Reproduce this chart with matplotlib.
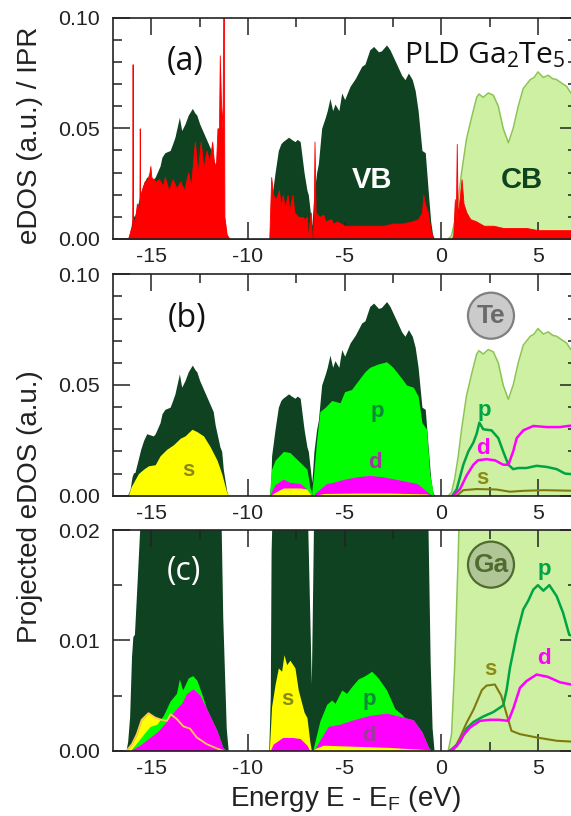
import matplotlib
matplotlib.use('Agg')
import matplotlib.pyplot as plt
from matplotlib.patches import Ellipse
from matplotlib.ticker import MultipleLocator

plt.rcParams['font.family'] = ['Liberation Sans', 'DejaVu Sans']
plt.rcParams['axes.unicode_minus'] = False
plt.rcParams['mathtext.default'] = 'regular'

# total eDOS, valence side
e_vb = [-16.28,-16.2,-16.1,-16.0,-15.93,-15.85,-15.72,-15.55,-15.4,-15.24,-15.07,-14.9,-14.8,-14.55,-14.45,-14.3,-14.03,-13.9,-13.78,-13.55,-13.43,-13.26,-13.09,-12.88,-12.75,-12.65,-12.5,-12.4,-12.2,-12.05,-11.8,-11.7,-11.6,-11.45,-11.36,-11.28,-11.1,-11.0,
        -8.9,-8.82,-8.78,-8.6,-8.43,-8.3,-8.2,-8.05,-7.9,-7.75,-7.57,-7.45,-7.3,-7.1,-6.95,-6.88,-6.75,-6.7,-6.65,-6.59,-6.45,-6.36,-6.19,-6.0,-5.9,-5.76,-5.62,-5.5,-5.3,-5.15,-5.0,-4.72,-4.45,-4.12,-3.95,-3.7,-3.5,-3.25,-3.1,-2.83,-2.65,-2.31,-2.05,-1.88,-1.7,-1.5,-1.35,-1.2,-1.0,-0.83,-0.67,-0.55,-0.45,-0.35]
dos_vb = [0,.0008,.003,.0085,.0103,.0105,.015,.021,.025,.028,.0275,.027,.028,.033,.037,.039,.040,.043,.046,.055,.049,.052,.056,.059,.057,.056,.052,.05,.046,.043,.038,.032,.028,.022,.02,.012,.002,0,
          0,.005,.018,.03,.04,.043,.044,.045,.046,.045,.044,.045,.044,.03,.022,.02,.01,.006,.012,.02,.03,.034,.05,.055,.058,.0635,.058,.061,.058,.066,.063,.069,.0725,.078,.079,.0855,.087,.0846,.085,.0877,.0854,.079,.074,.072,.075,.072,.067,.058,.04,.039,.021,.008,.002,0]

# total eDOS, conduction side
e_cb = [.36,.53,.7,.88,1.05,1.3,1.57,1.83,1.95,2.17,2.43,2.69,2.95,3.2,3.47,3.72,3.98,4.24,4.6,4.8,5.0,5.28,5.53,5.75,5.97,6.3,6.48,6.7,7.0]
dos_cb = [0,.0015,.008,.018,.03,.045,.055,.064,.0655,.064,.066,.065,.06,.05,.0435,.05,.06,.068,.072,.073,.0755,.073,.074,.0725,.072,.07,.069,.066,.066]

# IPR
e_ipr = [-16.2,-16.05,-15.99,-15.97,-15.95,-15.8,-15.75,-15.62,-15.6,-15.58,-15.5,-15.35,-15.2,-15.1,-15.05,-15.0,-14.8,-14.6,-14.4,-14.3,-14.1,-13.9,-13.7,-13.5,-13.3,-13.1,-12.95,-12.75,-12.6,-12.45,-12.3,-12.15,-12.0,-11.85,-11.75,-11.65,-11.58,-11.5,-11.46,-11.4,-11.32,-11.28,-11.25,-11.22,-11.1,-10.95,
         -8.9,-8.8,-8.7,-8.55,-8.4,-8.3,-8.2,-8.1,-7.95,-7.85,-7.7,-7.6,-7.4,-7.2,-7.05,-6.95,-6.9,-6.8,-6.75,-6.7,-6.65,-6.6,-6.56,-6.5,-6.3,-6.1,-6.0,-5.7,-5.6,-5.4,-5.0,-4.5,-4.0,-3.5,-3.0,-2.5,-2.0,-1.5,-1.2,-1.0,-0.93,-0.85,-0.7,-0.55,-0.42,
         .55,.62,.7,.75,.8,.85,1.05,1.15,1.3,1.5,1.8,2.2,2.7,3.2,3.8,4.4,5.0,5.6,6.2,7.0]
val_ipr = [0,.005,.005,.079,.006,.012,.016,.014,.05,.018,.022,.026,.027,.03,.033,.028,.026,.027,.024,.028,.022,.027,.023,.026,.022,.03,.024,.044,.03,.044,.032,.04,.035,.044,.033,.035,.05,.05,.083,.062,.05,.10,.10,.01,.002,0,
           0,.028,.02,.018,.022,.015,.02,.014,.02,.013,.02,.012,.01,.01,.009,.01,0,.009,.012,.001,0,.01,.044,.012,.01,.011,.008,.009,.007,.008,.006,.006,.006,.006,.006,.007,.007,.008,.009,.012,.02,.016,.012,.004,0,
           0,.002,.018,.008,.043,.01,.027,.016,.012,.009,.008,.006,.006,.005,.005,.005,.004,.004,.004,.004]

# Te projections
te_s_e = [-16.2,-16.05,-15.67,-15.4,-15.15,-14.8,-14.55,-14.2,-13.86,-13.5,-13.26,-12.9,-12.65,-12.3,-11.95,-11.6,-11.36,-11.1,-10.95]
te_s = [0,.004,.01,.012,.0135,.014,.018,.021,.023,.026,.027,.03,.029,.027,.022,.016,.01,.0015,0]
te_mid_e = [-8.9,-8.78,-8.6,-8.17,-7.83,-7.3,-6.95,-6.8,-6.7]
te_mid_p = [0,.012,.016,.02,.0195,.015,.012,.004,.001]
te_mid_d = [0,.002,.005,.0075,.006,.0055,.003,.001,0]
te_mid_s = [0,.0005,.0015,.0035,.0035,.0035,.003,.001,0]
te_vb_e = [-6.7,-6.6,-6.45,-6.28,-6.0,-5.67,-5.24,-5.0,-4.64,-4.3,-3.95,-3.7,-3.27,-2.83,-2.5,-2.05,-1.8,-1.45,-1.2,-1.0,-0.76,-0.6,-0.41]
te_vb_p = [.002,.01,.025,.038,.04,.043,.042,.047,.048,.052,.056,.058,.0595,.0605,.058,.053,.05,.049,.045,.033,.03,.01,.001]
te_vb_d_e = [-6.55,-6.28,-5.93,-5.6,-5.0,-4.4,-3.7,-3.0,-2.1,-1.25,-0.76,-0.5]
te_vb_d = [.001,.003,.0055,.006,.0075,.0085,.0092,.0085,.007,.0055,.002,0]
te_vb_s_e = [-6.55,-6.1,-4.4,-2.7,-0.76,-0.5]
te_vb_s = [.0001,.001,.0012,.0012,.0008,0]
te_cb_p_e = [.57,.8,1.14,1.4,1.66,1.83,1.97,2.17,2.6,2.95,3.2,3.47,3.72,3.98,4.4,4.93,5.45,5.97,6.4,7.0]
te_cb_p = [0,.003,.014,.02,.024,.028,.033,.030,.0295,.026,.02,.014,.012,.0125,.0125,.0135,.013,.012,.01,.0095]
te_cb_d_e = [.62,.97,1.3,1.66,1.9,2.34,2.77,3.2,3.47,3.72,3.9,4.24,4.76,5.45,6.14,7.0]
te_cb_d = [0,.003,.009,.014,.016,.0165,.016,.014,.014,.02,.026,.0295,.0315,.031,.031,.032]
te_cb_s_e = [.8,1.14,1.83,2.86,3.55,4.24,5.28,7.0]
te_cb_s = [0,.0025,.003,.0028,.0018,.0022,.0025,.0022]

# Ga projections
ga_s_e = [-16.28,-16.0,-15.75,-15.5,-15.15,-14.8,-14.47,-14.2,-14.0,-13.7,-13.34,-13.0,-12.65,-12.14,-11.6,-11.3]
ga_s = [0,.0006,.0015,.0028,.0034,.003,.0028,.0027,.0033,.0029,.0022,.002,.0012,.0006,.0002,0]
ga_p_e = [-16.1,-15.85,-15.4,-15.07,-14.72,-14.38,-14.03,-13.7,-13.55,-13.38,-13.09,-12.86,-12.65,-12.4,-12.14,-11.6,-11.3,-11.1]
ga_p = [0,.0005,.0015,.0022,.0024,.0032,.0045,.0052,.0065,.0055,.0066,.0068,.0064,.0052,.0038,.0018,.0003,0]
ga_d_e = [-16.1,-15.6,-15.07,-14.64,-14.2,-13.95,-13.7,-13.43,-13.17,-12.83,-12.48,-12.14,-11.6,-11.3,-11.1]
ga_d = [0,.0005,.0012,.0018,.0027,.0033,.0038,.0043,.0052,.0056,.005,.0038,.0018,.0003,0]
ga_mid_s_e = [-8.9,-8.78,-8.6,-8.43,-8.26,-8.14,-8.0,-7.83,-7.57,-7.4,-7.1,-6.95,-6.8,-6.72]
ga_mid_s = [0,.004,.006,.0075,.0072,.0087,.0078,.0082,.0075,.0055,.0035,.003,.0008,0]
ga_mid_d_e = [-8.85,-8.7,-8.2,-7.7,-7.3,-6.95,-6.8]
ga_mid_d = [0,.0006,.0012,.0012,.0011,.0005,0]
ga_vb_p_e = [-6.65,-6.53,-6.28,-5.93,-5.67,-5.5,-5.15,-4.9,-4.64,-4.3,-3.95,-3.6,-3.27,-2.83,-2.4,-2.05,-1.9,-1.45,-1.0,-0.66,-0.5]
ga_vb_p = [0,.0009,.0027,.0042,.0046,.0043,.0055,.0052,.0058,.0065,.0068,.0072,.0066,.0055,.0038,.0033,.003,.0028,.0017,.0003,0]
ga_vb_d_e = [-6.65,-6.5,-6.2,-5.85,-5.24,-4.55,-3.7,-2.83,-2.1,-1.45,-1.0,-0.66,-0.5]
ga_vb_d = [0,.0003,.0012,.0022,.0024,.0028,.0032,.0034,.0031,.0028,.0017,.0003,0]
ga_vb_s_e = [-6.65,-6.53,-6.1,-4.4,-2.7,-0.76,-0.5]
ga_vb_s = [0,.0002,.0005,.0004,.0003,.0001,0]
ga_cb_p_e = [.45,.97,1.3,1.66,2.17,2.69,3.2,3.38,3.55,3.9,4.24,4.5,4.76,5.0,5.28,5.59,5.97,6.3,6.62,7.0]
ga_cb_p = [0,.0008,.002,.0026,.0031,.0035,.0041,.0055,.0075,.0105,.0128,.0136,.0146,.015,.0145,.015,.014,.0125,.0105,.0103]
ga_cb_d_e = [.45,.8,1.14,1.48,2.0,2.5,3.0,3.47,3.72,4.07,4.4,4.93,5.5,6.14,7.0]
ga_cb_d = [0,.0004,.0014,.0021,.0027,.0028,.0028,.0027,.0038,.0057,.0063,.0069,.0067,.0062,.0059]
ga_cb_s_e = [.62,.97,1.3,1.66,2.1,2.34,2.77,3.1,3.38,3.63,4.07,4.93,5.97,7.0]
ga_cb_s = [0,.0012,.0025,.0037,.0055,.0059,.006,.005,.0033,.0018,.0015,.0012,.0009,.0008]

xticks = [-15,-10,-5,0,5]

DARK = '#0e4220'
LIGHT = '#cdf0a2'
EDGE = '#8cc454'
GREEN = '#00ff00'
MAG = '#ff00ff'
YEL = '#ffff00'
LINE_P = '#00a444'
OLIVE = '#7f7a10'
LAB_P = '#0a8a3a'
LAB_D = '#a038a0'
LAB_S = '#8c8a14'

W, H = 571, 816
fig = plt.figure(figsize=(W/100, H/100), dpi=100)

def make_ax(top, bottom, ymax, major, minor):
    ax = fig.add_axes([112.7/W, 1-bottom/H, (576.6-112.7)/W, (bottom-top)/H])
    ax.set_xlim(-17, 7)
    ax.set_ylim(0, ymax)
    ax.xaxis.set_major_locator(MultipleLocator(5))
    ax.xaxis.set_minor_locator(MultipleLocator(2.5))
    ax.yaxis.set_major_locator(MultipleLocator(major))
    ax.yaxis.set_minor_locator(MultipleLocator(minor))
    ax.set_xticks(xticks)
    ax.tick_params(which='major', direction='in', length=12.2, width=1.1, top=True, right=True, color='#222222')
    ax.tick_params(which='minor', direction='in', length=6.5, width=1.1, top=True, right=True, color='#222222')
    ax.tick_params(axis='x', which='major', labelsize=15.4, pad=6, labelcolor='#222222')
    ax.tick_params(axis='y', which='major', labelsize=15.4, pad=9, labelcolor='#222222')
    ax.yaxis.set_major_formatter('{x:.2f}')
    for s in ax.spines.values():
        s.set_linewidth(1.2)
        s.set_color('#222222')
        s.set_zorder(20)
    return ax

def fill(ax, x, y, color, z):
    ax.fill_between(x, 0, y, color=color, linewidth=0, zorder=z)

def base(ax):
    fill(ax, e_vb, dos_vb, DARK, 1)
    fill(ax, e_cb, dos_cb, LIGHT, 1)
    ax.plot(e_cb, dos_cb, color=EDGE, lw=1.1, zorder=1.5)

ax_a = make_ax(17.7, 239, .10, .05, .01)
ax_b = make_ax(274.3, 495.7, .10, .05, .01)
ax_c = make_ax(530, 750.7, .02, .01, .005)

# panel a
base(ax_a)
ax_a.fill_between(e_ipr, 0, val_ipr, color='#ff0000', linewidth=0.6, zorder=3)
ax_a.text(-13.26, .080, '(a)', fontfamily='Open Sans', fontsize=23, ha='center', va='center', color='#111111', zorder=5)
ax_a.text(-1.93, .0794, 'PLD Ga$_2$Te$_5$', fontfamily='Open Sans', fontsize=21.6, ha='left', va='baseline', color='#111111', zorder=5)
ax_a.text(-3.6, .0267, 'VB', fontsize=21, fontweight='bold', color='white', ha='center', va='center', zorder=5)
ax_a.text(4.16, .0267, 'CB', fontsize=21, fontweight='bold', color=DARK, ha='center', va='center', zorder=5)
fig.text(30/W, 1-135/H, 'eDOS (a.u.) / IPR', rotation=90, fontsize=20, color='#222222', ha='center', va='center')

# panel b
ax_b.axhline(0, color=MAG, lw=1, zorder=.5)
base(ax_b)
fill(ax_b, te_s_e, te_s, YEL, 2)
fill(ax_b, te_mid_e, te_mid_p, GREEN, 2)
fill(ax_b, te_mid_e, te_mid_d, MAG, 3)
fill(ax_b, te_mid_e, te_mid_s, YEL, 4)
fill(ax_b, te_vb_e, te_vb_p, GREEN, 2)
fill(ax_b, te_vb_d_e, te_vb_d, MAG, 3)
fill(ax_b, te_vb_s_e, te_vb_s, YEL, 4)
ax_b.plot(te_cb_s_e, te_cb_s, color=OLIVE, lw=1.5, zorder=4)
ax_b.plot(te_cb_p_e, te_cb_p, color=LINE_P, lw=1.8, zorder=4)
ax_b.plot(te_cb_d_e, te_cb_d, color=MAG, lw=1.8, zorder=5)
ax_b.text(-13.17, .080, '(b)', fontfamily='Open Sans', fontsize=23, ha='center', va='center', color='#111111', zorder=5)
ax_b.add_patch(Ellipse((2.57, .0813), 2.38, .0208, facecolor='#cbcbcb', edgecolor='#808080', lw=1.6, zorder=6))
ax_b.text(2.57, .0813, 'Te', fontsize=19, fontweight='bold', color='#6a6a6a', ha='center', va='center', zorder=7)
for x, y, t, c in [(-13.09, .0116, 's', LAB_S), (-3.31, .038, 'p', LAB_P), (-3.43, .015, 'd', LAB_D),
                   (2.22, .0387, 'p', LINE_P), (2.17, .0214, 'd', MAG), (2.14, .0078, 's', LAB_S)]:
    ax_b.text(x, y, t, fontsize=16, fontweight='bold', color=c, ha='center', va='center', zorder=8)

# panel c
base(ax_c)
fill(ax_c, ga_s_e, ga_s, YEL, 2)
fill(ax_c, ga_p_e, ga_p, GREEN, 3)
fill(ax_c, ga_d_e, ga_d, MAG, 4)
ax_c.plot(ga_s_e, ga_s, color='#ffc850', lw=1.3, zorder=5)
fill(ax_c, ga_mid_s_e, ga_mid_s, YEL, 2)
fill(ax_c, ga_mid_d_e, ga_mid_d, MAG, 3)
fill(ax_c, ga_vb_p_e, ga_vb_p, GREEN, 2)
fill(ax_c, ga_vb_d_e, ga_vb_d, MAG, 3)
fill(ax_c, ga_vb_s_e, ga_vb_s, YEL, 4)
ax_c.plot(ga_cb_s_e, ga_cb_s, color=OLIVE, lw=1.5, zorder=4)
ax_c.plot(ga_cb_p_e, ga_cb_p, color=LINE_P, lw=1.8, zorder=4)
ax_c.plot(ga_cb_d_e, ga_cb_d, color=MAG, lw=1.8, zorder=5)
ax_c.text(-13.3, .0162, '(c)', fontfamily='Open Sans', fontsize=23, ha='center', va='center', color='white', zorder=5)
ax_c.add_patch(Ellipse((2.57, .01686), 2.38, .00417, facecolor='#b0c696', edgecolor='#4f6b2f', lw=1.6, zorder=6))
ax_c.text(2.57, .01686, 'Ga', fontsize=19, fontweight='bold', color='#4f6b2f', ha='center', va='center', zorder=7)
for x, y, t, c in [(-7.95, .00465, 's', LAB_S), (-3.72, .00465, 'p', LAB_P), (-3.72, .0014, 'd', LAB_D),
                   (2.52, .0074, 's', LAB_S), (5.31, .0164, 'p', LINE_P), (5.31, .0084, 'd', MAG)]:
    ax_c.text(x, y, t, fontsize=16, fontweight='bold', color=c, ha='center', va='center', zorder=8)
ax_c.set_xlabel('Energy E - E$_F$ (eV)', fontsize=20, color='#222222')
ax_c.xaxis.set_label_coords((345.5-112.7)/(576.6-112.7), -48/220.7, transform=ax_c.transAxes)
ax_c.xaxis.label.set_va('center')

fig.text(30/W, 1-507/H, 'Projected eDOS (a.u.)', rotation=90, fontsize=20, color='#222222', ha='center', va='center')

fig.savefig('out.png', dpi=100)
